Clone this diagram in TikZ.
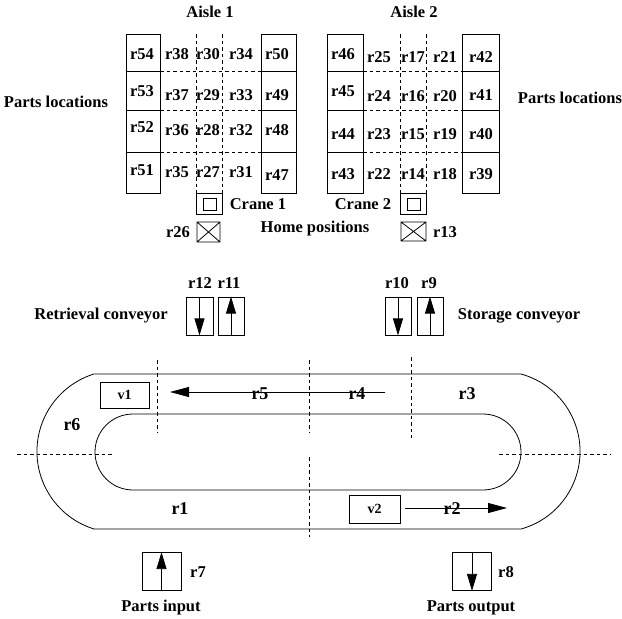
\documentclass[tikz,border=0pt]{standalone}
\usepackage{fontspec}
\setmainfont{Liberation Serif}
\usetikzlibrary{arrows.meta}
\tikzset{
  lbl/.style={font=\fontsize{16.5}{16.5}\selectfont\bfseries,inner sep=0pt},
  biglbl/.style={font=\fontsize{18}{18}\selectfont\bfseries,inner sep=0pt},
  dash line/.style={line width=0.7pt,dash pattern=on 3.5pt off 3pt},
  solid line/.style={line width=0.8pt},
  flow/.style={line width=0.8pt,-{Triangle[length=17pt,width=10pt]}},
  bigflow/.style={line width=0.8pt,-{Triangle[length=19pt,width=10pt]}},
  conv/.style={draw,line width=0.8pt,inner sep=0pt,minimum width=#1,minimum height=38pt},
  vehicle/.style={draw,line width=0.8pt,inner sep=0pt,font=\fontsize{14}{14}\selectfont\bfseries}
}
\begin{document}
\begin{tikzpicture}[x=1pt,y=-1pt]
\useasboundingbox (0,0) rectangle (622,619);
% storage racks
\foreach \xa/\xb in {126/160,261/296,327/363,462/499}{
  \draw[solid line] (\xa,34.5) rectangle (\xb,193);
  \foreach \yy in {71.5,110,152}{\draw[solid line] (\xa,\yy) -- (\xb,\yy);}
}
\foreach \yy in {71.5,110,152}{
  \draw[dash line] (160,\yy) -- (261,\yy);
  \draw[dash line] (363,\yy) -- (462,\yy);
}
\foreach \xx in {196.5,222.5,400,426}{\draw[dash line] (\xx,34) -- (\xx,193);}
% cranes
\draw[solid line] (196.5,193) rectangle (222.5,214);
\draw[solid line] (203,198) rectangle (216,210);
\draw[solid line] (400,193) rectangle (426,214);
\draw[solid line] (407,198) rectangle (420,210);
% home positions
\draw[solid line] (197,222) rectangle (220,242) (197,222) -- (220,242) (197,242) -- (220,222);
\draw[solid line] (401,222) rectangle (426,241) (401,222) -- (426,241) (401,241) -- (426,222);
% track
\draw[solid line] (94,374) -- (521,374) arc[start angle=-74.6,end angle=74.6,radius=80.4] -- (94,529) arc[start angle=-252.7,end angle=-107.3,radius=81.2];
\draw[solid line] (133,414) -- (483,414) arc[start angle=-90,end angle=90,radius=38] -- (133,490) arc[start angle=-270,end angle=-90,radius=38];
% zone dividers
\draw[dash line] (157.5,360) -- (157.5,433);
\draw[dash line] (309.5,360) -- (309.5,433);
\draw[dash line] (309.5,457) -- (309.5,537);
\draw[dash line] (411.5,357) -- (411.5,438);
\draw[dash line] (17,454) -- (114,454);
\draw[dash line] (499,454) -- (611,454);
% vehicles
\node[vehicle,minimum width=49pt,minimum height=26pt] (v1) at (124.5,395) {v1};
\node[vehicle,minimum width=51pt,minimum height=28pt] (v2) at (374.5,509) {v2};
\coordinate (r5s) at (385,392);
\coordinate (r5e) at (170,392);
\coordinate (r2s) at (405,508);
\coordinate (r2e) at (507,508);
\draw[bigflow] (r5s) -- (r5e);
\draw[bigflow] (r2s) -- (r2e);
% conveyors
\node[conv=27pt] (c12) at (199.5,316) {};
\node[conv=26pt] (c11) at (231,316) {};
\node[conv=26pt] (c10) at (398,316) {};
\node[conv=26pt] (c9) at (430,316) {};
\node[conv=39pt] (c7) at (161.5,571.5) {};
\node[conv=39pt] (c8) at (472,571.5) {};
\draw[flow] (c12.north) -- (c12.south);
\draw[flow] (c11.south) -- (c11.north);
\draw[flow] (c10.north) -- (c10.south);
\draw[flow] (c9.south) -- (c9.north);
\draw[flow] (c7.south) -- (c7.north);
\draw[flow] (c8.north) -- (c8.south);
% rack labels
\foreach \t/\xx/\yy in {r54/142/54,r53/142/91,r52/142/127,r51/142/170,
 r38/177/54,r37/177/95,r36/177/130,r35/177/172,
 r30/208/54,r29/208/95,r28/208/130,r27/208/172,
 r34/241/54,r33/241/95,r32/241/130,r31/241/172,
 r50/277/54,r49/277/95,r48/277/130,r47/277/175,
 r46/343/54,r45/343/91,r44/343/134,r43/343/174,
 r25/379/57,r24/379/96,r23/379/134,r22/379/174,
 r17/413/57,r16/413/96,r15/413/134,r14/413/174,
 r21/445/57,r20/445/96,r19/445/134,r18/445/174,
 r42/481/57,r41/481/95,r40/481/134,r39/481/174,
 r26/178/232,r13/445/232,r12/200/283,r11/229/283,r10/397/283,r9/429/283,
 r7/198/572,r8/506/572}{
  \node[lbl] (\t) at (\xx,\yy) {\t};
}
\foreach \t/\xx/\yy in {r5/260/394,r4/357/394,r3/467/394,r6/72/425,r1/180/509,r2/452/509}{
  \node[biglbl] (\t) at (\xx,\yy) {\t};
}
% captions
\node[lbl] (aisle1) at (210,12) {Aisle 1};
\node[lbl] (aisle2) at (414,12) {Aisle 2};
\node[lbl] (plL) at (56,102) {Parts locations};
\node[lbl] (plR) at (570,98) {Parts locations};
\node[lbl] (crane1) at (258,204) {Crane 1};
\node[lbl] (crane2) at (363,204) {Crane 2};
\node[lbl] (home) at (315,229) {Home positions};
\node[lbl] (retr) at (101,316) {Retrieval conveyor};
\node[lbl] (stor) at (519,316) {Storage conveyor};
\node[lbl] (pin) at (161,608) {Parts input};
\node[lbl] (pout) at (471,608) {Parts output};
\end{tikzpicture}
\end{document}
